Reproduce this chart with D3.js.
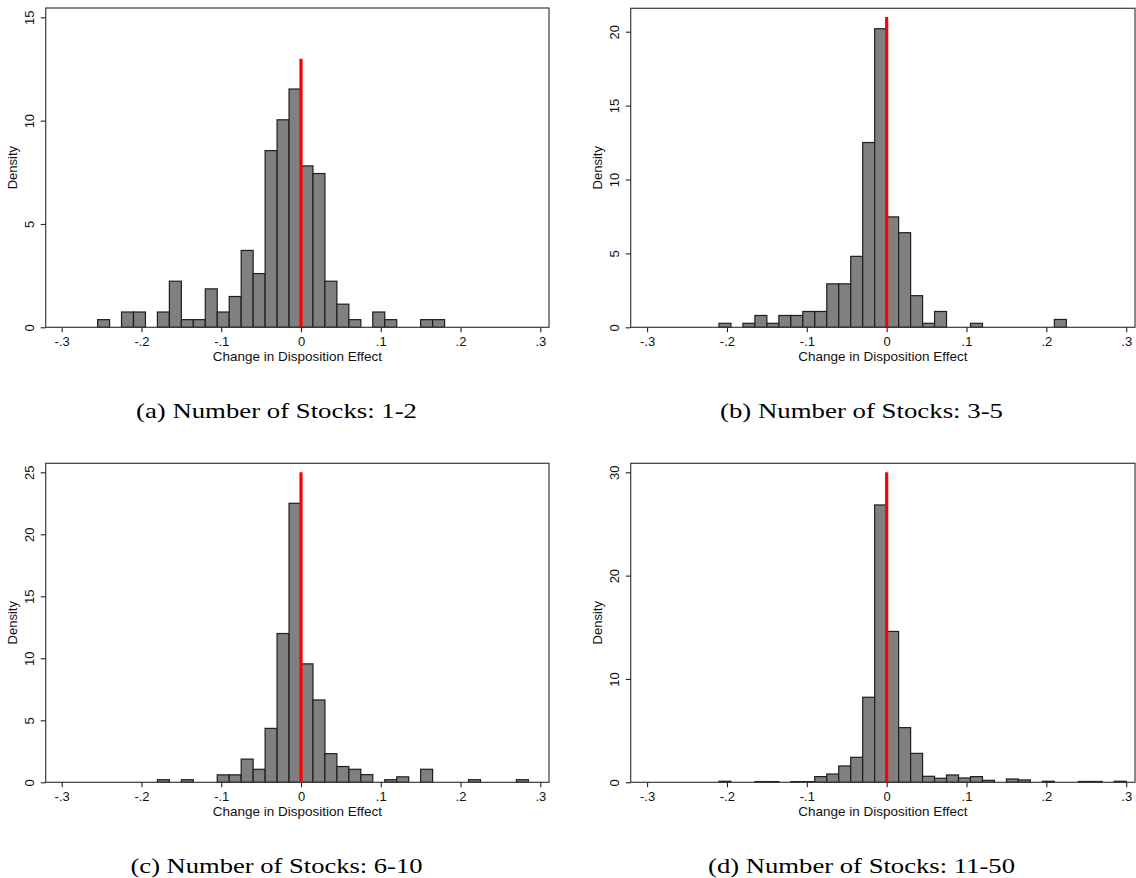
<!DOCTYPE html>
<html>
<head>
<meta charset="utf-8">
<script src="https://cdn.jsdelivr.net/npm/d3@7"></script>
<style>
  body { margin: 0; background: #fff; }
  svg { display: block; }
</style>
</head>
<body>
<svg id="chart" width="1136" height="878"></svg>
<script>
// histogram bin width (all panels)
var binWidth = 0.015;

// x axis
var xTickValues = [-0.3, -0.2, -0.1, 0, 0.1, 0.2, 0.3];
var xTickLabels = ["-.3", "-.2", "-.1", "0", ".1", ".2", ".3"];

// (a) 1-2 stocks, first bin starts at -.255
var startA = -0.255;
var densityA = [0.37, 0, 0.74, 0.74, 0, 0.74, 2.23, 0.37, 0.37, 1.86, 0.74, 1.49, 3.72, 2.6,
  8.55, 10.04, 11.53, 7.81, 7.44, 2.23, 1.12, 0.37, 0, 0.74, 0.37, 0, 0, 0.37, 0.37];
var yTicksA = [0, 5, 10, 15];
var lineTopA = 13;

// (b) 3-5 stocks, first bin starts at -.21
var startB = -0.21;
var densityB = [0.27, 0, 0.27, 0.8, 0.27, 0.8, 0.8, 1.07, 1.07, 2.94, 2.94, 4.8, 12.5, 20.2,
  7.47, 6.4, 2.14, 0.27, 1.07, 0, 0, 0.27, 0, 0, 0, 0, 0, 0, 0.53];
var yTicksB = [0, 5, 10, 15, 20];
var lineTopB = 21;

// (c) 6-10 stocks
var startC = -0.255;
var densityC = [0, 0, 0, 0, 0, 0.21, 0, 0.21, 0, 0, 0.6, 0.6, 1.87, 1.05, 4.35, 12.0, 22.5,
  9.55, 6.64, 2.31, 1.27, 1.05, 0.62, 0, 0.21, 0.44, 0, 1.05, 0, 0, 0, 0.21, 0, 0, 0, 0.21];
var yTicksC = [0, 5, 10, 15, 20, 25];
var lineTopC = 25;

// (d) 11-50 stocks
var startD = -0.21;
var densityD = [0.1, 0, 0, 0.07, 0.07, 0, 0.07, 0.07, 0.55, 0.8, 1.58, 2.42, 8.23, 26.84,
  14.6, 5.29, 2.8, 0.58, 0.39, 0.71, 0.42, 0.55, 0.19, 0, 0.32, 0.23, 0, 0.1, 0, 0, 0.08, 0.08, 0, 0.1];
var yTicksD = [0, 10, 20, 30];
var lineTopD = 30;

var captions = ["(a) Number of Stocks: 1-2", "(b) Number of Stocks: 3-5",
  "(c) Number of Stocks: 6-10", "(d) Number of Stocks: 11-50"];

var sans = "'Liberation Sans', Arial, Helvetica, sans-serif";
var serif = "'Liberation Serif', 'Times New Roman', serif";

// page layout of the four panels
var panels = [
  { start: startA, dens: densityA, yTicks: yTicksA, lineTop: lineTopA, caption: captions[0],
    left: 45.7, right: 549, top: 8, base: 327.3, x0: 61.7, x1: 540.3, yTopPx: 17.3, capX: 276.5, capY: 418, capW: 281 },
  { start: startB, dens: densityB, yTicks: yTicksB, lineTop: lineTopB, caption: captions[1],
    left: 630.7, right: 1135, top: 8.3, base: 327.3, x0: 647.1, x1: 1126.2, yTopPx: 31.7, capX: 861.5, capY: 418, capW: 283 },
  { start: startC, dens: densityC, yTicks: yTicksC, lineTop: lineTopC, caption: captions[2],
    left: 45.7, right: 549, top: 463.3, base: 782.3, x0: 61.7, x1: 540.3, yTopPx: 472.3, capX: 276.5, capY: 873, capW: 292 },
  { start: startD, dens: densityD, yTicks: yTicksD, lineTop: lineTopD, caption: captions[3],
    left: 630.7, right: 1135, top: 463.3, base: 782.3, x0: 647.1, x1: 1126.2, yTopPx: 472.3, capX: 861.5, capY: 873, capW: 307 }
];

var svg = d3.select("#chart");
svg.append("rect").attr("width", 1136).attr("height", 878).attr("fill", "#fff");

panels.forEach(function(p) {
  var g = svg.append("g");
  var yMax = p.yTicks[p.yTicks.length - 1];

  var x = d3.scaleLinear().domain([-0.3, 0.3]).range([p.x0, p.x1]);
  var y = d3.scaleLinear().domain([0, yMax]).range([p.base, p.yTopPx]);

  var bins = p.dens.map(function(d, i) {
    return { x0: p.start + i * binWidth, x1: p.start + (i + 1) * binWidth, d: d };
  }).filter(function(b) { return b.d > 0; });

  g.append("g")
    .selectAll("rect")
    .data(bins)
    .enter().append("rect")
    .attr("x", function(b) { return x(b.x0); })
    .attr("width", function(b) { return x(b.x1) - x(b.x0); })
    .attr("y", function(b) { return y(b.d); })
    .attr("height", function(b) { return p.base - y(b.d); })
    .attr("fill", "#808080")
    .attr("stroke", "#1e1e1e")
    .attr("stroke-width", 1.2);

  // red reference line at zero
  g.append("line")
    .attr("x1", x(0)).attr("x2", x(0))
    .attr("y1", y(0)).attr("y2", y(p.lineTop))
    .attr("stroke", "#ff0000")
    .attr("stroke-width", 3.2);

  // plot frame
  g.append("rect")
    .attr("x", p.left).attr("y", p.top)
    .attr("width", p.right - p.left).attr("height", p.base - p.top)
    .attr("fill", "none")
    .attr("stroke", "#3a3a3a")
    .attr("stroke-width", 1.2);

  // x axis
  var xa = g.append("g")
    .attr("transform", "translate(0," + p.base + ")")
    .call(d3.axisBottom(x).tickValues(xTickValues)
      .tickFormat(function(d, i) { return xTickLabels[i]; })
      .tickSize(5).tickSizeOuter(0));
  xa.select(".domain").remove();
  xa.selectAll(".tick line").attr("stroke", "#222").attr("stroke-width", 1.1);
  xa.selectAll(".tick text")
    .attr("y", 19).attr("dy", null)
    .attr("fill", "#111")
    .style("font-family", sans).style("font-size", "13px");

  // y axis, labels turned like Stata's
  var ya = g.append("g")
    .attr("transform", "translate(" + p.left + ",0)")
    .call(d3.axisLeft(y).tickValues(p.yTicks).tickSize(5).tickSizeOuter(0));
  ya.select(".domain").remove();
  ya.selectAll(".tick line").attr("stroke", "#222").attr("stroke-width", 1.1);
  ya.selectAll(".tick text")
    .attr("x", 0).attr("y", -11.5).attr("dy", null)
    .attr("transform", "rotate(-90)")
    .attr("text-anchor", "middle")
    .attr("fill", "#111")
    .style("font-family", sans).style("font-size", "13px");

  // axis titles
  g.append("text")
    .attr("transform", "translate(" + (p.left - 28.3) + "," + ((p.top + p.base) / 2) + ") rotate(-90)")
    .attr("text-anchor", "middle")
    .attr("fill", "#111")
    .style("font-family", sans).style("font-size", "13px")
    .text("Density");

  g.append("text")
    .attr("x", (p.left + p.right) / 2)
    .attr("y", p.base + 34)
    .attr("text-anchor", "middle")
    .attr("fill", "#111")
    .style("font-family", sans).style("font-size", "13.5px")
    .text("Change in Disposition Effect");

  // caption below the panel
  g.append("text")
    .attr("x", p.capX - p.capW / 2)
    .attr("y", p.capY)
    .attr("textLength", p.capW)
    .attr("lengthAdjust", "spacingAndGlyphs")
    .attr("fill", "#000")
    .style("font-family", serif).style("font-size", "22px")
    .text(p.caption);
});
</script>
</body>
</html>
